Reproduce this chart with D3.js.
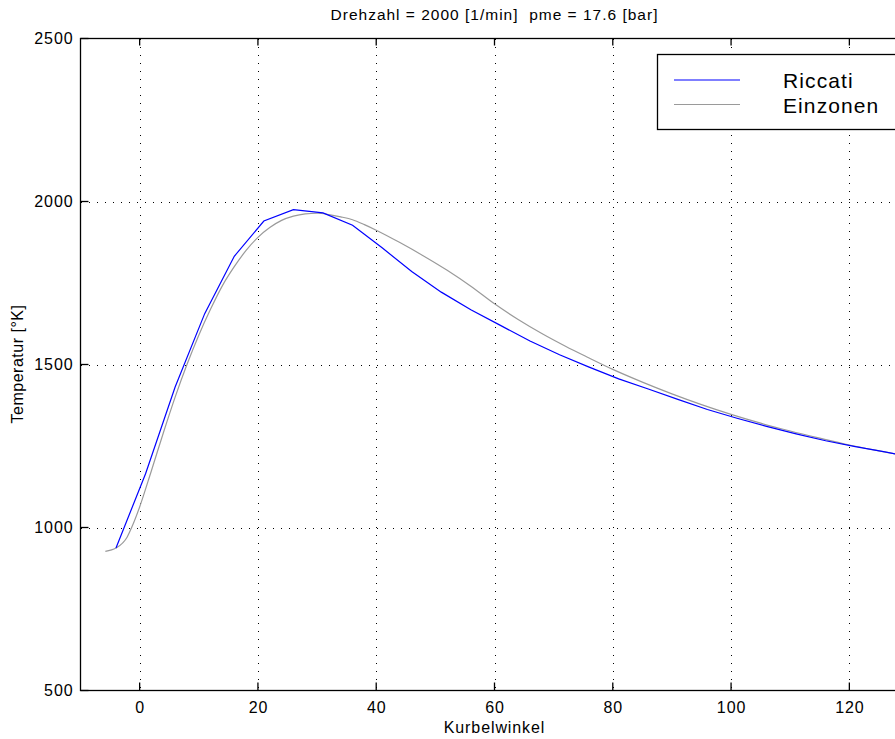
<!DOCTYPE html>
<html>
<head>
<meta charset="utf-8">
<script src="https://cdn.jsdelivr.net/npm/d3@7"></script>
<style>
  body { margin: 0; background: #fff; }
  svg { display: block; font-family: "Liberation Sans", Arial, sans-serif; }
</style>
</head>
<body>
<div id="chart"></div>
<script>
var W = 895, H = 739;

// Riccati curve (crank angle, temperature K)
var rAngle = [-4, 1, 6, 11, 16, 21, 26, 31, 36, 41, 46, 51, 56, 61, 66, 71, 76, 81, 86, 91, 96, 101, 106, 111, 116, 121, 126, 131];
var rTemp = [937, 1165, 1431, 1656, 1832, 1940, 1975, 1965, 1927, 1858, 1785, 1722, 1668, 1620, 1572, 1530, 1492, 1456, 1425, 1393, 1362, 1335, 1310, 1287, 1266, 1248, 1232, 1215];

// Einzonen curve
var eAngle = [-5.8, -4, -2.1, -1.3, 0, 2, 4, 6, 8, 10, 12, 14, 16, 18, 20, 22, 24, 26, 28, 30, 32, 34, 36, 38, 40, 44, 48, 52, 56, 60, 64, 68, 72, 76, 80, 85, 90, 95, 100, 105, 110, 115, 120, 125, 130];
var eTemp = [927, 937, 971, 1002, 1063, 1175, 1290, 1400, 1500, 1590, 1670, 1742, 1800, 1850, 1890, 1920, 1942, 1955, 1962, 1964, 1960, 1953, 1944, 1929, 1912, 1874, 1833, 1789, 1740, 1686, 1638, 1595, 1556, 1520, 1485, 1446, 1410, 1377, 1347, 1320, 1296, 1274, 1253, 1235, 1218];

var xTicks = [0, 20, 40, 60, 80, 100, 120];
var yTicks = [500, 1000, 1500, 2000, 2500];
var seriesNames = ['Riccati', 'Einzonen'];
var seriesColors = ['#0000ff', '#9a9a9a'];

var titleText = 'Drehzahl = 2000 [1/min]  pme = 17.6 [bar]';
var xLabel = 'Kurbelwinkel';
var yLabel = 'Temperatur [\u00B0K]';

var svg = d3.select('#chart').append('svg')
  .attr('width', W).attr('height', H);

var x = d3.scaleLinear().domain([-10, 130]).range([80.5, 908.5]);
var y = d3.scaleLinear().domain([500, 2500]).range([690.5, 38.5]);

var pLeft = x.range()[0], pRight = x.range()[1];
var pTop = y.range()[1], pBottom = y.range()[0];

// grid
var grid = svg.append('g').attr('stroke', '#000').attr('stroke-width', 1)
  .attr('stroke-dasharray', '1,7').attr('shape-rendering', 'crispEdges');
grid.selectAll('line.vx').data(xTicks).enter().append('line')
  .attr('x1', d => Math.round(x(d)) + 0.5).attr('x2', d => Math.round(x(d)) + 0.5)
  .attr('y1', pTop).attr('y2', pBottom);
grid.selectAll('line.hy').data(yTicks.slice(1, -1)).enter().append('line')
  .attr('x1', pLeft).attr('x2', pRight)
  .attr('y1', d => Math.round(y(d)) + 0.5).attr('y2', d => Math.round(y(d)) + 0.5);

// lines
var line = d3.line().x(d => x(d[0])).y(d => y(d[1]));
svg.append('path')
  .datum(eAngle.map((a, i) => [a, eTemp[i]]))
  .attr('fill', 'none').attr('stroke', seriesColors[1]).attr('stroke-width', 1.2)
  .attr('d', line.curve(d3.curveMonotoneX));
svg.append('path')
  .datum(rAngle.map((a, i) => [a, rTemp[i]]))
  .attr('fill', 'none').attr('stroke', seriesColors[0]).attr('stroke-width', 1.2)
  .attr('d', line.curve(d3.curveLinear));

// axes (labels from d3 axes, ticks drawn inward)
var fmt = d3.format('d');
var xAxisB = svg.append('g').attr('transform', 'translate(0,' + pBottom + ')')
  .call(d3.axisBottom(x).tickValues(xTicks).tickFormat(fmt).tickSize(0).tickPadding(11));
var yAxisL = svg.append('g').attr('transform', 'translate(' + pLeft + ',0)')
  .call(d3.axisLeft(y).tickValues(yTicks).tickFormat(fmt).tickSize(0).tickPadding(7));

[xAxisB, yAxisL].forEach(function (g) {
  g.select('.domain').remove();
  g.selectAll('text').attr('fill', '#000')
    .style('font-family', '"Liberation Sans", Arial, sans-serif')
    .style('font-size', '16px').style('letter-spacing', '0.9px');
});

var ticks = svg.append('g').attr('stroke', '#000').attr('stroke-width', 1.3);
ticks.selectAll('line.xb').data(xTicks).enter().append('line')
  .attr('x1', d => x(d)).attr('x2', d => x(d)).attr('y1', pBottom).attr('y2', pBottom - 8);
ticks.selectAll('line.xt').data(xTicks).enter().append('line')
  .attr('x1', d => x(d)).attr('x2', d => x(d)).attr('y1', pTop).attr('y2', pTop + 7);
ticks.selectAll('line.yl').data(yTicks).enter().append('line')
  .attr('x1', pLeft).attr('x2', pLeft + 8).attr('y1', d => y(d)).attr('y2', d => y(d));

// frame
svg.append('rect').attr('x', pLeft).attr('y', pTop)
  .attr('width', pRight - pLeft).attr('height', pBottom - pTop)
  .attr('fill', 'none').attr('stroke', '#000').attr('stroke-width', 1.3);

// title and labels
svg.append('text').attr('x', (pLeft + pRight) / 2).attr('y', 20)
  .attr('text-anchor', 'middle').style('font-size', '15.5px').style('letter-spacing', '1px')
  .style('white-space', 'pre')
  .text(titleText);
svg.append('text').attr('x', (pLeft + pRight) / 2).attr('y', 733)
  .attr('text-anchor', 'middle').style('font-size', '16px').style('letter-spacing', '0.9px')
  .text(xLabel);
svg.append('text').attr('transform', 'translate(23,364) rotate(-90)')
  .attr('text-anchor', 'middle').style('font-size', '16px').style('letter-spacing', '0.5px')
  .text(yLabel);

// legend
var leg = svg.append('g');
leg.append('rect').attr('x', 657.5).attr('y', 54.5).attr('width', 260).attr('height', 75)
  .attr('fill', '#fff').attr('stroke', '#000').attr('stroke-width', 1.3);
var items = leg.selectAll('g.item').data(seriesNames).enter().append('g')
  .attr('transform', (d, i) => 'translate(0,' + (80 + i * 24.5) + ')');
items.append('line').attr('x1', 674).attr('x2', 740).attr('y1', 0).attr('y2', 0)
  .attr('stroke', (d, i) => seriesColors[i]).attr('stroke-width', 1.2);
items.append('text').attr('x', 783).attr('y', 8)
  .style('font-size', '21px').style('letter-spacing', '1.1px')
  .text(d => d);
</script>
</body>
</html>
